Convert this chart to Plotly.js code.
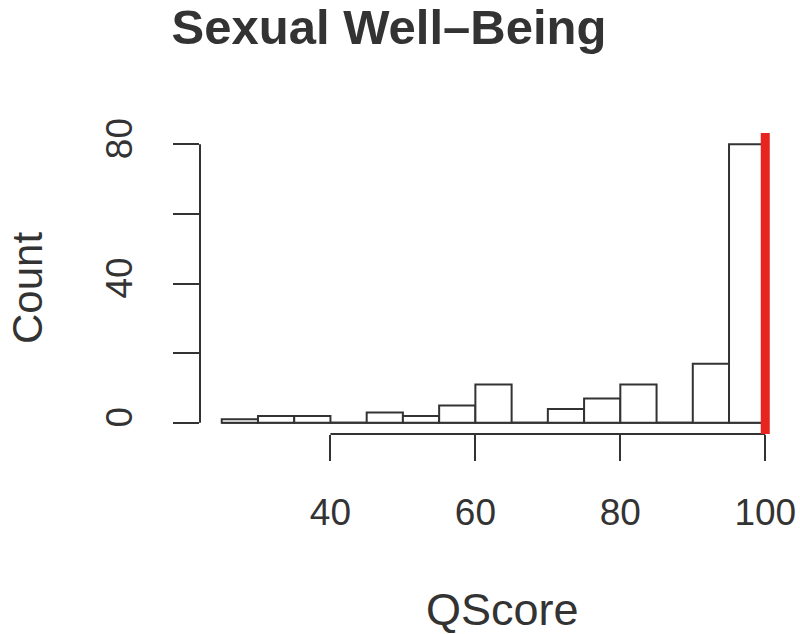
<!DOCTYPE html>
<html>
<head>
<meta charset="utf-8">
<script src="https://cdn.plot.ly/plotly-3.0.1.min.js"></script>
<style>
  html, body { margin: 0; padding: 0; background: #fff; }
  #chart { width: 800px; height: 634px; }
</style>
</head>
<body>
<div id="chart"></div>
<script>
// ── Histogram data (bins of width 5) ───────────────────────────────────────
const BIN_LEFT  = [25, 30, 35, 40, 45, 50, 55, 60, 65, 70, 75, 80, 85, 90, 95];
const BIN_WIDTH = 5;
const COUNTS    = [1, 2, 2, 0, 3, 2, 5, 11, 0, 4, 7, 11, 0, 17, 80];

// Reference score marked with the red vertical line
const REF_SCORE = 100;

// Axis ticks (R-style: labels only on every other y tick)
const X_TICKS      = [40, 60, 80, 100];
const Y_TICKS      = [0, 20, 40, 60, 80];
const Y_TICK_TEXT  = ['0', '', '40', '', '80'];

const TITLE   = 'Sexual Well\u2013Being';
const X_LABEL = 'QScore';
const Y_LABEL = 'Count';

// ── Derived ────────────────────────────────────────────────────────────────
const binCenters = BIN_LEFT.map(b => b + BIN_WIDTH / 2);
const binStart   = BIN_LEFT[0];
const binEnd     = BIN_LEFT[BIN_LEFT.length - 1] + BIN_WIDTH;
// R pads the data range by 4 % on each side (xaxs/yaxs = "r")
const xPad = (binEnd - binStart) * 0.04;
const yMax = Math.max(...COUNTS);
const yPad = yMax * 0.04;

const INK  = '#333333';
const FONT = 'Liberation Sans, Arial, Helvetica, sans-serif';

const trace = {
  type: 'bar',
  x: binCenters,
  y: COUNTS,
  width: BIN_WIDTH,
  marker: { color: '#ffffff', line: { color: INK, width: 2 } },
  hoverinfo: 'x+y',
  showlegend: false,
};

const axisBase = {
  showgrid: false,
  zeroline: false,
  showline: false,
  ticks: 'outside',
  ticklen: 26,
  tickwidth: 2,
  tickcolor: INK,
  tickfont: { family: FONT, size: 37, color: INK },
  fixedrange: true,
};

const layout = {
  width: 800,
  height: 634,
  paper_bgcolor: '#ffffff',
  plot_bgcolor: '#ffffff',
  margin: { l: 200, r: 13, t: 133, b: 200, autoexpand: false },
  font: { family: FONT, color: INK },
  title: {
    text: '<b>' + TITLE + '</b>',
    font: { family: FONT, size: 49, color: INK },
    x: 389 / 800, xanchor: 'center',
    y: 1 - 27 / 634, yanchor: 'middle',
    xref: 'container', yref: 'container',
  },
  xaxis: Object.assign({}, axisBase, {
    range: [binStart - xPad, binEnd + xPad],
    tickmode: 'array',
    tickvals: X_TICKS,
    ticktext: X_TICKS.map(String),
    ticklabelstandoff: 20,
  }),
  yaxis: Object.assign({}, axisBase, {
    range: [-yPad, yMax + yPad],
    tickmode: 'array',
    tickvals: Y_TICKS,
    ticktext: Y_TICK_TEXT,
    tickangle: -90,
    ticklabelstandoff: 26,
  }),
  shapes: [
    // x axis line spans first..last tick, like R's axis()
    { type: 'line', xref: 'x', yref: 'paper',
      x0: X_TICKS[0], x1: X_TICKS[X_TICKS.length - 1], y0: 0, y1: 0,
      line: { color: INK, width: 2 } },
    // y axis line spans first..last tick
    { type: 'line', xref: 'paper', yref: 'y',
      x0: 0, x1: 0, y0: Y_TICKS[0], y1: Y_TICKS[Y_TICKS.length - 1],
      line: { color: INK, width: 2 } },
    // histogram baseline (empty bins still show the bottom edge)
    { type: 'line', xref: 'x', yref: 'y', layer: 'below',
      x0: binStart, x1: binEnd, y0: 0, y1: 0,
      line: { color: INK, width: 2 } },
    // reference line, abline(v = 100, col = "red")
    { type: 'line', xref: 'x', yref: 'paper',
      x0: REF_SCORE, x1: REF_SCORE, y0: 0, y1: 1,
      line: { color: '#e82420', width: 9 } },
  ],
  annotations: [
    { text: X_LABEL, xref: 'paper', yref: 'paper',
      x: (502 - 200) / 587, y: (434 - 609) / 301,
      xanchor: 'center', yanchor: 'middle', showarrow: false,
      font: { family: FONT, size: 45, color: INK } },
    { text: Y_LABEL, xref: 'paper', yref: 'paper', textangle: -90,
      x: (27 - 200) / 587, y: (434 - 288) / 301,
      xanchor: 'center', yanchor: 'middle', showarrow: false,
      font: { family: FONT, size: 42, color: INK } },
  ],
};

Plotly.newPlot('chart', [trace], layout, { displayModeBar: false, staticPlot: true });
</script>
</body>
</html>
